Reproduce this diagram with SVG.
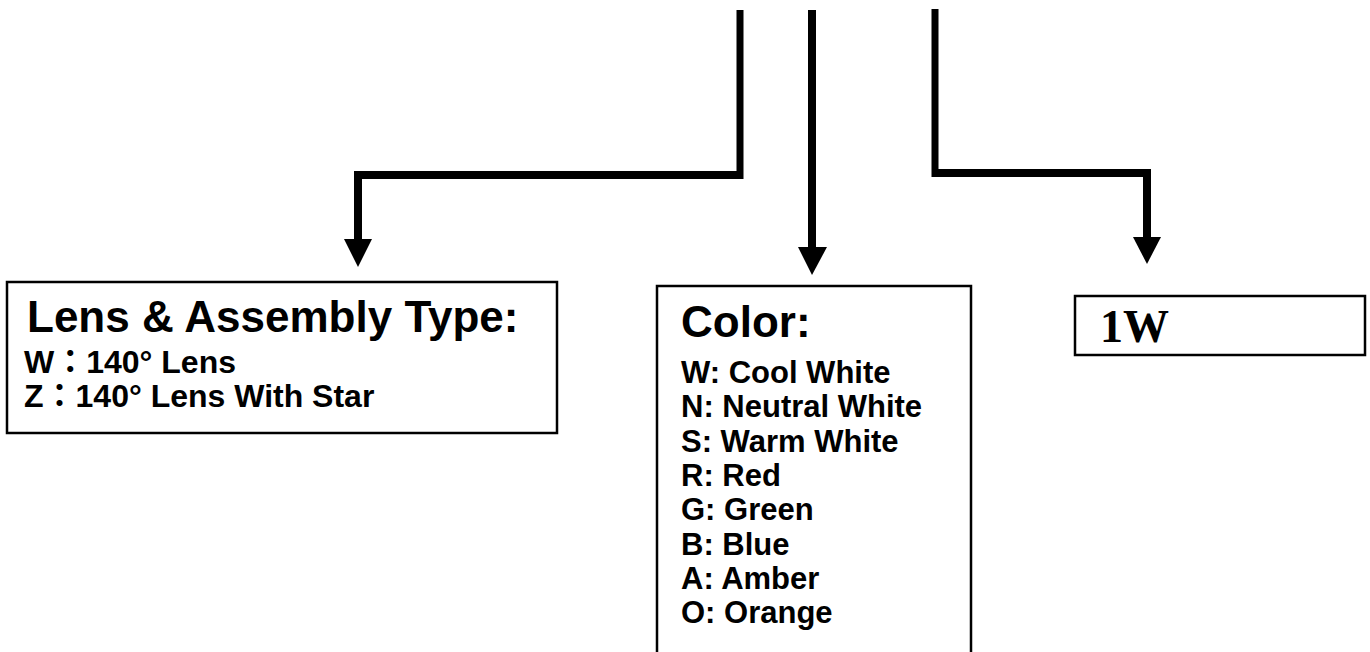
<svg xmlns="http://www.w3.org/2000/svg" width="1370" height="652" viewBox="0 0 1370 652">
<style>
.box{fill:#fff;stroke:#000;stroke-width:2.5}
.h{font-family:"Liberation Sans","Noto Sans CJK TC",Arial,sans-serif;font-weight:bold;font-size:44px;fill:#000}
.t{font-family:"Liberation Sans","Noto Sans CJK TC",Arial,sans-serif;font-weight:bold;font-size:31px;fill:#000}
.t2{font-family:"Liberation Sans","Noto Sans CJK TC",Arial,sans-serif;font-weight:bold;font-size:32px;fill:#000}
.s{font-family:"Liberation Serif","Times New Roman",serif;font-weight:bold;font-size:46px;fill:#000}
.ln{fill:none;stroke:#000;stroke-linejoin:miter;stroke-linecap:butt}
.ah{fill:#000}
</style>
<rect width="1370" height="652" fill="#fff"/>
<g id="connectors">
<polyline class="ln" stroke-width="7" points="740,10 740,179"/>
<polyline class="ln" stroke-width="8" points="740,175 358,175 358,242"/>
<polygon class="ah" points="344,239 372,239 358,267"/>
<polyline class="ln" stroke-width="8" points="812,10 812,250"/>
<polygon class="ah" points="798,247 827,247 812,275"/>
<polyline class="ln" stroke-width="7" points="935,9 935,177"/>
<polyline class="ln" stroke-width="8" points="935,173 1147,173 1147,240"/>
<polygon class="ah" points="1133,237 1161,237 1147,264"/>
</g>
<g id="node-lens">
<rect class="box" x="7" y="282" width="550" height="151"/>
<text class="h" x="27" y="332">Lens &amp; Assembly Type:</text>
<text class="t2" x="24" y="373">W：140° Lens</text>
<text class="t2" x="24" y="407">Z：140° Lens With Star</text>
</g>
<g id="node-color">
<rect class="box" x="657" y="286" width="314" height="380"/>
<text class="h" x="681" y="337">Color:</text>
<text class="t" x="681" y="383">W: Cool White</text>
<text class="t" x="681" y="417">N: Neutral White</text>
<text class="t" x="681" y="452">S: Warm White</text>
<text class="t" x="681" y="486">R: Red</text>
<text class="t" x="681" y="520">G: Green</text>
<text class="t" x="681" y="555">B: Blue</text>
<text class="t" x="681" y="589">A: Amber</text>
<text class="t" x="681" y="623">O: Orange</text>
</g>
<g id="node-power">
<rect class="box" x="1075" y="296" width="290" height="59"/>
<text class="s" x="1100" y="342">1W</text>
</g>
</svg>
